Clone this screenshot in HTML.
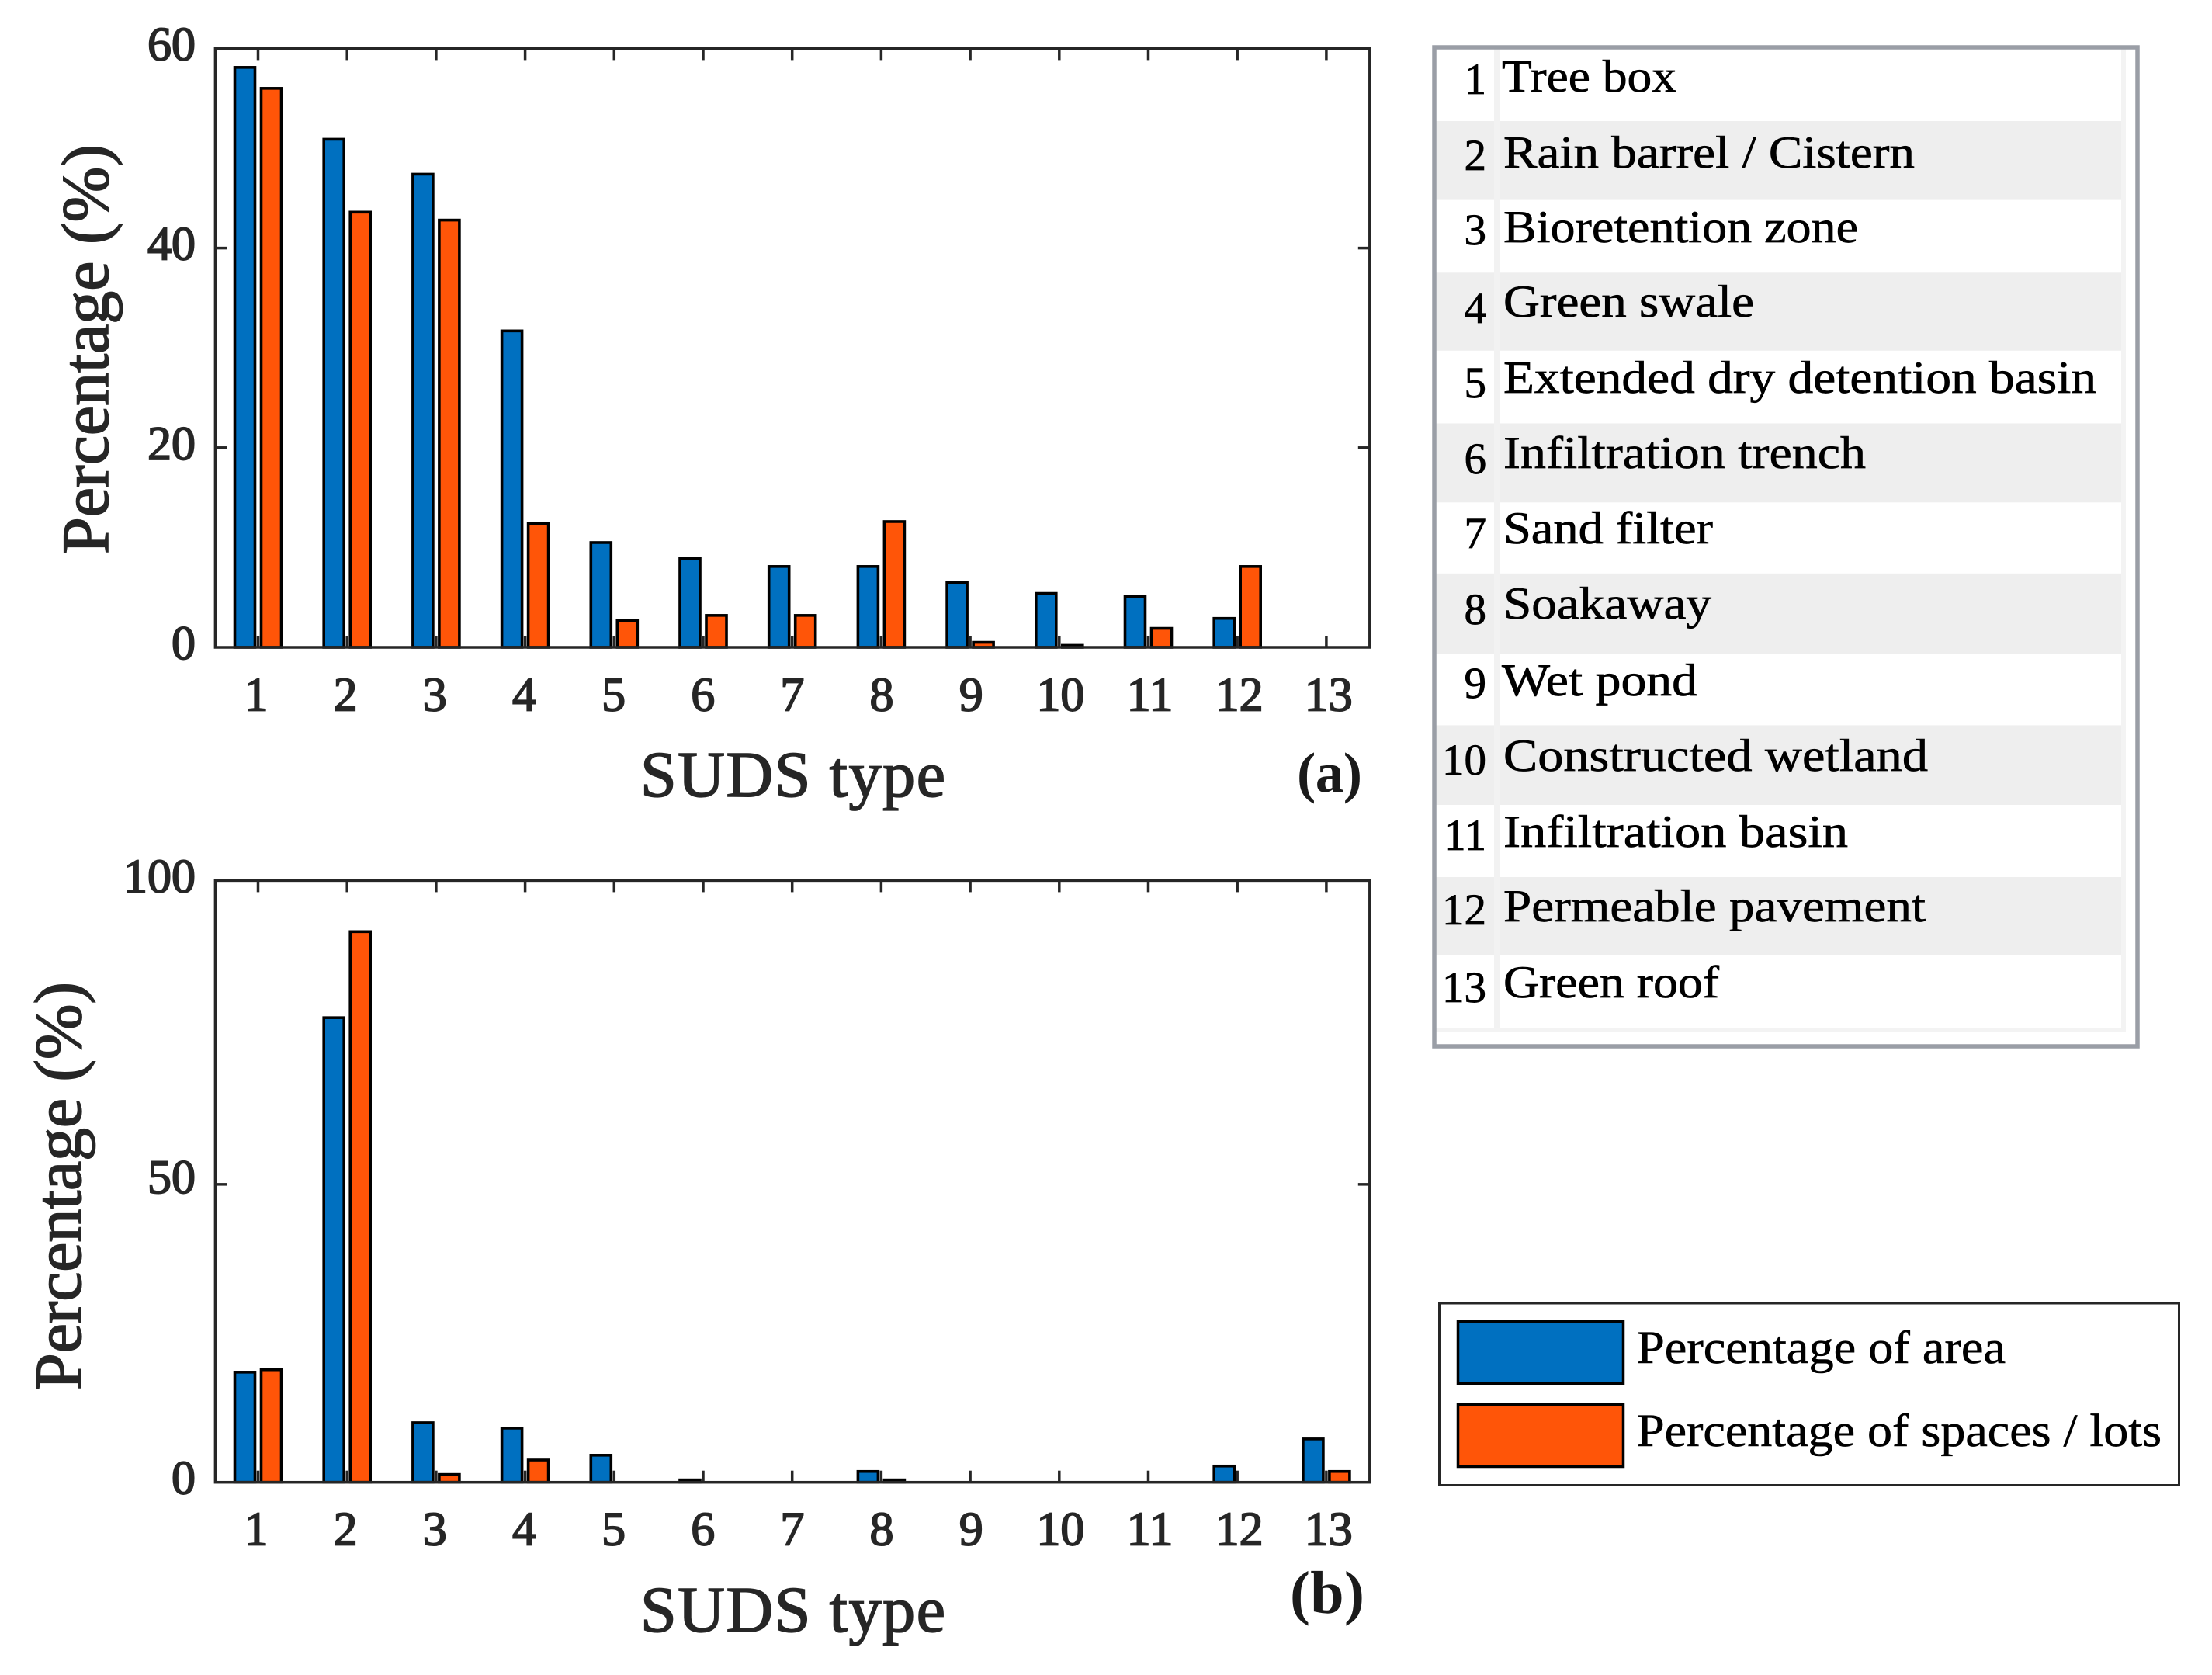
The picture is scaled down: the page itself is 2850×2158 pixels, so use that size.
<!DOCTYPE html>
<html lang="en">
<head>
<meta charset="utf-8">
<title>SUDS type percentages</title>
<style>
  html, body { margin: 0; padding: 0; background: #ffffff; }
  svg { display: block; text-rendering: geometricPrecision; }
  text { font-family: "Liberation Serif", "DejaVu Serif", serif; }
  .tick { font-size: 62px; fill: #262626; stroke: #262626; stroke-width: 1.8px; }
  .title { font-size: 84px; fill: #262626; stroke: #262626; stroke-width: 1.6px; }
  .panel { font-size: 73px; font-weight: bold; fill: #1a1a1a; }
  .num { font-size: 57px; fill: #000; text-anchor: end; stroke: #000; stroke-width: 0.8px; }
  .lab { font-size: 59px; fill: #000; stroke: #000; stroke-width: 0.7px; }
  .leg { font-size: 60px; fill: #000; stroke: #000; stroke-width: 0.6px; }
</style>
</head>
<body>
<svg id="figure" xmlns="http://www.w3.org/2000/svg" width="2850" height="2158" viewBox="0 0 2850 2158">
  <rect x="0" y="0" width="2850" height="2158" fill="#ffffff"/>

  <g id="panel-a"></g>
  <g id="panel-b"></g>

  <text class="title" transform="translate(139,714) rotate(-90)" textLength="528" lengthAdjust="spacing" style="font-size:86px">Percentage (%)</text>
  <text class="title" x="825" y="1026" textLength="393" lengthAdjust="spacing">SUDS type</text>
  <text class="panel" x="1671" y="1020" textLength="84" lengthAdjust="spacing">(a)</text>

  <text class="title" transform="translate(104,1791) rotate(-90)" textLength="526" lengthAdjust="spacing" style="font-size:86px">Percentage (%)</text>
  <text class="title" x="825" y="2102" textLength="393" lengthAdjust="spacing">SUDS type</text>
  <text class="panel" x="1662" y="2078" textLength="96" lengthAdjust="spacing" style="font-size:78px">(b)</text>

  <g>
    <rect x="1848" y="61" width="906" height="1287" fill="#ffffff"/>
    <rect x="1850" y="156" width="883" height="101.6" fill="#eeeeee"/>
    <rect x="1850" y="351.3" width="883" height="100.5" fill="#eeeeee"/>
    <rect x="1850" y="545.5" width="883" height="101.8" fill="#eeeeee"/>
    <rect x="1850" y="738.8" width="883" height="104.1" fill="#eeeeee"/>
    <rect x="1850" y="934.4" width="883" height="102.6" fill="#eeeeee"/>
    <rect x="1850" y="1130" width="883" height="100" fill="#eeeeee"/>
    <rect x="1925" y="62" width="7" height="1262" fill="#f2f2f2"/>
    <rect x="2733" y="62" width="6" height="1267" fill="#f3f3f3"/>
    <rect x="1850" y="1324" width="889" height="5" fill="#f3f3f3"/>
    <rect x="1848" y="61" width="906" height="1287" fill="none" stroke="#9a9ea6" stroke-width="5.5"/>

    <text class="num" x="1915" y="121">1</text>
    <text class="lab" x="1935" y="118" textLength="225" lengthAdjust="spacingAndGlyphs">Tree box</text>
    <text class="num" x="1915" y="219">2</text>
    <text class="lab" x="1937" y="216" textLength="530" lengthAdjust="spacingAndGlyphs">Rain barrel / Cistern</text>
    <text class="num" x="1915" y="315">3</text>
    <text class="lab" x="1937" y="312" textLength="457" lengthAdjust="spacingAndGlyphs">Bioretention zone</text>
    <text class="num" x="1915" y="416">4</text>
    <text class="lab" x="1937" y="408" textLength="323" lengthAdjust="spacingAndGlyphs">Green swale</text>
    <text class="num" x="1915" y="512">5</text>
    <text class="lab" x="1937" y="506" textLength="764" lengthAdjust="spacingAndGlyphs">Extended dry detention basin</text>
    <text class="num" x="1915" y="610">6</text>
    <text class="lab" x="1937" y="603" textLength="467" lengthAdjust="spacingAndGlyphs">Infiltration trench</text>
    <text class="num" x="1915" y="706">7</text>
    <text class="lab" x="1937" y="700" textLength="270" lengthAdjust="spacingAndGlyphs">Sand filter</text>
    <text class="num" x="1915" y="804">8</text>
    <text class="lab" x="1937" y="797" textLength="268" lengthAdjust="spacingAndGlyphs">Soakaway</text>
    <text class="num" x="1915" y="899">9</text>
    <text class="lab" x="1935" y="896" textLength="252" lengthAdjust="spacingAndGlyphs">Wet pond</text>
    <text class="num" x="1915" y="998">10</text>
    <text class="lab" x="1937" y="993" textLength="547" lengthAdjust="spacingAndGlyphs">Constructed wetland</text>
    <text class="num" x="1915" y="1095">11</text>
    <text class="lab" x="1937" y="1091" textLength="444" lengthAdjust="spacingAndGlyphs">Infiltration basin</text>
    <text class="num" x="1915" y="1191">12</text>
    <text class="lab" x="1937" y="1187" textLength="544" lengthAdjust="spacingAndGlyphs">Permeable pavement</text>
    <text class="num" x="1915" y="1291">13</text>
    <text class="lab" x="1937" y="1285" textLength="278" lengthAdjust="spacingAndGlyphs">Green roof</text>
  </g>

  <g>
    <rect x="1854.5" y="1679" width="953" height="234.5" fill="#ffffff" stroke="#262626" stroke-width="3"/>
    <g>
      <rect x="1878.5" y="1702.5" width="213" height="80" fill="#0070c0" stroke="#000000" stroke-width="3.5"/>
      <text class="leg" x="2109" y="1756" textLength="475" lengthAdjust="spacingAndGlyphs">Percentage of area</text>
    </g>
    <g>
      <rect x="1878.5" y="1809.5" width="213" height="80" fill="#ff5508" stroke="#000000" stroke-width="3.5"/>
      <text class="leg" x="2109" y="1863" textLength="676" lengthAdjust="spacingAndGlyphs">Percentage of spaces / lots</text>
    </g>
  </g>
</svg>

<script>
// Chart data
const categories = [1, 2, 3, 4, 5, 6, 7, 8, 9, 10, 11, 12, 13];
const areaA   = [58.1, 50.9, 47.4, 31.7, 10.5, 8.9, 8.1, 8.1, 6.5, 5.4, 5.1, 2.9, 0];
const spacesA = [56.0, 43.6, 42.8, 12.4, 2.7, 3.2, 3.2, 12.6, 0.5, 0.2, 1.9, 8.1, 0];
const areaB   = [18.3, 77.2, 9.9, 9.0, 4.5, 0.4, 0, 1.8, 0, 0, 0, 2.7, 7.2];
const spacesB = [18.7, 91.5, 1.3, 3.7, 0, 0, 0, 0.4, 0, 0, 0, 0, 1.8];
const yTicksA = [0, 20, 40, 60];
const yTicksB = [0, 50, 100];
const yMaxA = 60;
const yMaxB = 100;

const NS = 'http://www.w3.org/2000/svg';
const AXIS_COLOR = '#262626';
const BLUE = '#0070c0';
const ORANGE = '#ff5508';
const LEFT = 277.4;
const RIGHT = 1764.8;
const TICK_LEN = 15;
const BAR_W = 26;
const BAR_OFFSET = 17;

function make(tag, attrs, parent) {
  const el = document.createElementNS(NS, tag);
  for (const k in attrs) el.setAttribute(k, attrs[k]);
  parent.appendChild(el);
  return el;
}

function xScale(v) {
  return 332.5 + (v - 1) * 114.7;
}

function drawPanel(root, suffix, top, bottom, yMax, yTicks, area, spaces, labelBaseline, tickShift) {
  const yScale = function (v) {
    return bottom - (v / yMax) * (bottom - top);
  };

  categories.forEach(function (c) {
    const x = xScale(c);
    const tickBottom = make('line', { x1: x, x2: x, y1: bottom, y2: bottom - TICK_LEN, stroke: AXIS_COLOR, 'stroke-width': 3.5 }, root);
    
    
    const tickTop = make('line', { x1: x, x2: x, y1: top, y2: top + TICK_LEN, stroke: AXIS_COLOR, 'stroke-width': 3.5 }, root);
    
    
    const label = make('text', { x: x - 2.5 + (c - 1) * 0.45, y: labelBaseline, 'text-anchor': 'middle', class: 'tick' }, root);
    label.textContent = String(c);
    
    
  });

  yTicks.forEach(function (t) {
    const y = yScale(t);
    if (t > 0 && t < yMax) {
      const tickLeft = make('line', { x1: LEFT, x2: LEFT + TICK_LEN, y1: y + tickShift, y2: y + tickShift, stroke: AXIS_COLOR, 'stroke-width': 3.5 }, root);
      
      
      const tickRight = make('line', { x1: RIGHT, x2: RIGHT - TICK_LEN, y1: y + tickShift, y2: y + tickShift, stroke: AXIS_COLOR, 'stroke-width': 3.5 }, root);
      
      
    }
    const label = make('text', { x: 252, y: y + 15, 'text-anchor': 'end', class: 'tick' }, root);
    label.textContent = String(t);
    
    
  });

  categories.forEach(function (c, i) {
    const x = xScale(c);
    const yArea = yScale(area[i]);
    const barArea = make('rect', {
      x: x - BAR_OFFSET - BAR_W / 2, y: yArea, width: BAR_W, height: bottom - yArea,
      fill: BLUE, stroke: area[i] > 0 ? '#000000' : 'none', 'stroke-width': 3.6
    }, root);
    
    

    const ySpaces = yScale(spaces[i]);
    const barSpaces = make('rect', {
      x: x + BAR_OFFSET - BAR_W / 2, y: ySpaces, width: BAR_W, height: bottom - ySpaces,
      fill: ORANGE, stroke: spaces[i] > 0 ? '#000000' : 'none', 'stroke-width': 3.6
    }, root);
    
    
  });

  const frame = make('rect', { x: LEFT, y: top, width: RIGHT - LEFT, height: bottom - top, fill: 'none', stroke: AXIS_COLOR, 'stroke-width': 3.5 }, root);
  
  
}

drawPanel(document.getElementById('panel-a'), 'a', 62.4, 834, yMaxA, yTicksA, areaA, spacesA, 915.5, 0);
drawPanel(document.getElementById('panel-b'), 'b', 1134.4, 1909.7, yMaxB, yTicksB, areaB, spacesB, 1990.7, 3.8);
</script>
</body>
</html>
